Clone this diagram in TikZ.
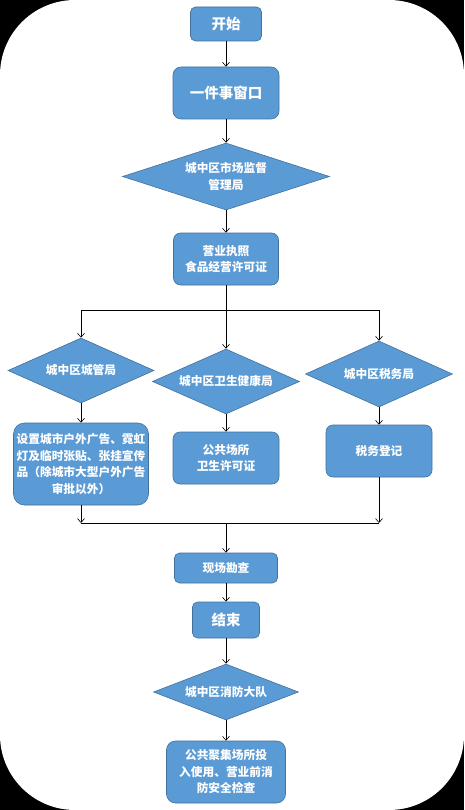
\documentclass[tikz,border=0pt]{standalone}
\usepackage{fontspec}
\setmainfont{Noto Sans CJK SC}
\usetikzlibrary{shapes.geometric,arrows.meta}
\definecolor{boxblue}{HTML}{5B9BD5}
\definecolor{boxedge}{HTML}{41719C}

\begin{document}
\begin{tikzpicture}[x=1pt,y=-1pt,
    flowbox/.style={rectangle,rounded corners=5pt,fill=boxblue,draw=boxedge,line width=0.6pt,
        text=white,font=\bfseries\fontsize{11.7pt}{16.5pt}\selectfont,align=center,inner sep=0pt},
    bigtext/.style={font=\bfseries\fontsize{14.5pt}{17pt}\selectfont},
    decide/.style={diamond,aspect=2.2,fill=boxblue,draw=boxedge,line width=0.6pt,
        text=white,font=\bfseries\fontsize{11.7pt}{16.5pt}\selectfont,align=center,inner sep=0pt},
    link/.style={line width=0.6pt,-{Straight Barb[length=4pt,width=7pt]}}]
    \useasboundingbox (0,0) rectangle (464,810);
    \fill[black] (0,0) rectangle (464,810);
    \fill[white,rounded corners=75pt] (0,0) rectangle (464,810);

    % main column
    \node[flowbox,bigtext,minimum width=71pt,minimum height=34pt] (start) at (226,24) {开始};
    \node[flowbox,bigtext,minimum width=106pt,minimum height=52pt,rounded corners=8pt] (window) at (226,93) {一件事窗口};
    \node[decide,minimum width=207pt,minimum height=67pt] (market) at (226,176.5) {城中区市场监督\\管理局};
    \node[flowbox,minimum width=105pt,minimum height=52pt,rounded corners=7pt] (license) at (226,259) {营业执照\\食品经营许可证};

    % three branches
    \coordinate (splitl) at (81,310);
    \coordinate (splitr) at (379,310);
    \node[decide,minimum width=146pt,minimum height=65pt] (urban) at (81,370.5) {城中区城管局};
    \node[decide,minimum width=147pt,minimum height=65pt] (health) at (226,381.5) {城中区卫生健康局};
    \node[decide,minimum width=147pt,minimum height=66pt] (taxbur) at (379,374) {城中区税务局};
    \node[flowbox,minimum width=135pt,minimum height=82pt,rounded corners=11pt] (advert) at (81,464)
        {设置城市户外广告、霓虹\\灯及临时张贴、张挂宣传\\品（除城市大型户外广告\\审批以外）};
    \node[flowbox,minimum width=106pt,minimum height=52pt,rounded corners=7pt] (hygiene) at (226,458) {公共场所\\卫生许可证};
    \node[flowbox,minimum width=106pt,minimum height=52pt,rounded corners=7pt] (taxreg) at (379,451) {税务登记};
    \coordinate (joinl) at (81,523);
    \coordinate (joinr) at (379,523);
    \coordinate (joinc) at (226,523);

    % lower column
    \node[flowbox,minimum width=103pt,minimum height=30pt] (survey) at (226,568) {现场勘查};
    \node[flowbox,bigtext,minimum width=67pt,minimum height=36pt] (finish) at (226,620) {结束};
    \node[decide,minimum width=145pt,minimum height=56pt] (fire) at (226,692) {城中区消防大队};
    \node[flowbox,minimum width=119pt,minimum height=62pt,rounded corners=9pt] (check) at (226,772)
        {公共聚集场所投\\入使用、营业前消\\防安全检查};

    \draw[link] (start) -- (window);
    \draw[link] (window) -- (market);
    \draw[link] (market) -- (license);
    \draw[link] (license) -- (health);
    \draw[line width=0.6pt] (splitl) -- (splitr);
    \draw[link] (splitl) -- (urban);
    \draw[link] (splitr) -- (taxbur);
    \draw[link] (urban) -- (advert);
    \draw[link] (health) -- (hygiene);
    \draw[link] (taxbur) -- (taxreg);
    \draw[link] (advert) -- (joinl);
    \draw[link] (taxreg) -- (joinr);
    \draw[line width=0.6pt] (joinl) -- (joinr);
    \draw[link] (joinc) -- (survey);
    \draw[link] (survey) -- (finish);
    \draw[link] (finish) -- (fire);
    \draw[link] (fire) -- (check);
\end{tikzpicture}
\end{document}
